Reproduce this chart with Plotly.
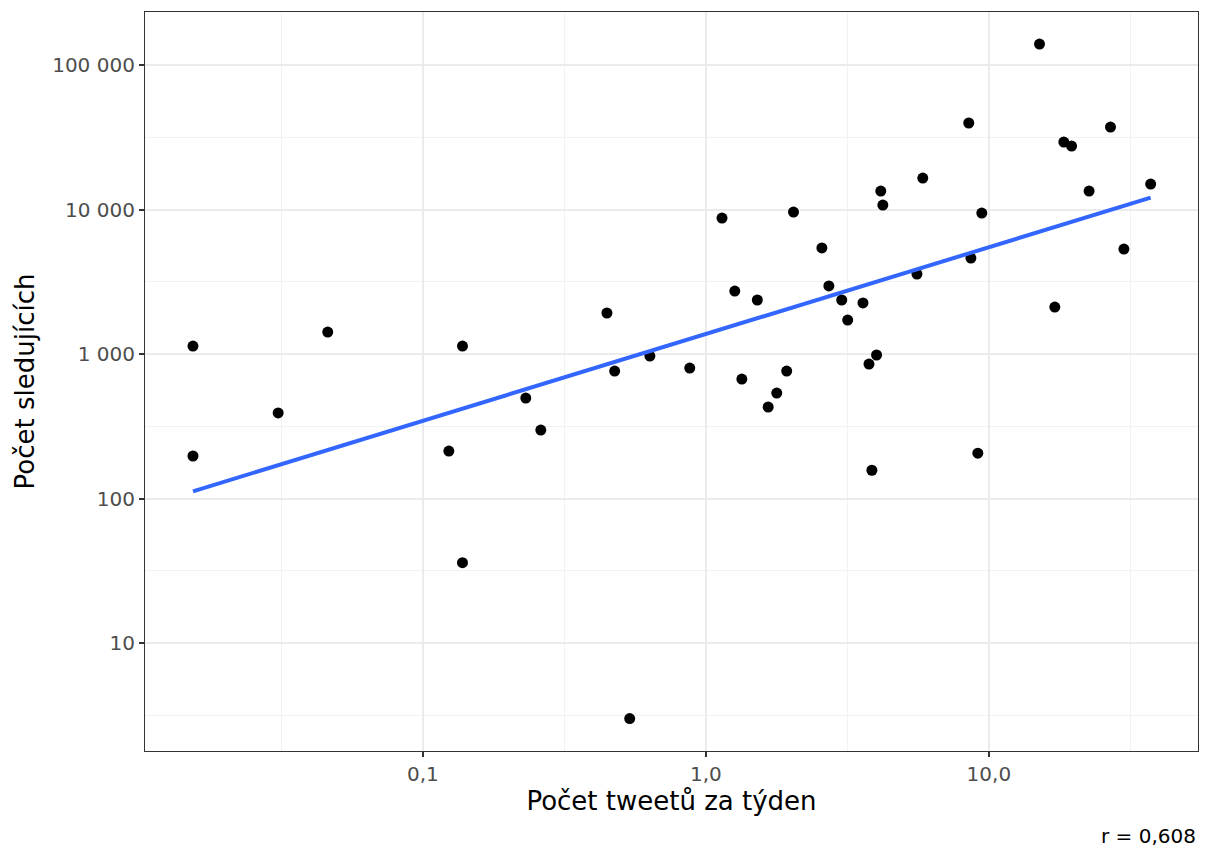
import numpy as np
import plotly.graph_objects as go

tweets_per_week = [0.0154, 0.0154, 0.0308, 0.0461, 0.1235, 0.138, 0.138, 0.231, 0.261, 0.447,
                   0.476, 0.538, 0.634, 0.877, 1.14, 1.265, 1.34, 1.52, 1.66, 1.78,
                   1.93, 2.04, 2.57, 2.72, 3.02, 3.17, 3.59, 3.77, 3.86, 4.01,
                   4.15, 4.22, 5.57, 5.84, 8.49, 8.64, 9.14, 9.44, 15.1, 17.1,
                   18.4, 19.6, 22.6, 26.9, 30.0, 37.3]
followers = [1135, 197, 391, 1420, 213, 1136, 36, 496, 298, 1923,
             763, 3, 969, 800, 8730, 2730, 671, 2366, 430, 537,
             763, 9610, 5420, 2958, 2366, 1718, 2256, 853, 157, 985,
             13430, 10740, 3580, 16520, 39700, 4615, 206, 9460, 139700, 2114,
             29300, 27500, 13430, 37200, 5330, 15000]

x_tick_vals = [0.1, 1.0, 10.0]
x_tick_text = ["0,1", "1,0", "10,0"]
y_tick_vals = [10, 100, 1000, 10000, 100000]
y_tick_text = ["10", "100", "1 000", "10 000", "100 000"]
x_minor = [10 ** -1.5, 10 ** -0.5, 10 ** 0.5, 10 ** 1.5]
y_minor = [10 ** 0.5, 10 ** 1.5, 10 ** 2.5, 10 ** 3.5, 10 ** 4.5]

lx = np.log10(tweets_per_week)
ly = np.log10(followers)
slope, intercept = np.polyfit(lx, ly, 1)
fx = np.linspace(lx.min(), lx.max(), 50)
fy = slope * fx + intercept

fig = go.Figure()
fig.add_trace(go.Scatter(x=tweets_per_week, y=followers, mode="markers",
                         marker=dict(color="black", size=11, line=dict(width=0)),
                         showlegend=False, hoverinfo="skip"))
fig.add_trace(go.Scatter(x=10 ** fx, y=10 ** fy, mode="lines",
                         line=dict(color="#3366FF", width=4),
                         showlegend=False, hoverinfo="skip"))

FONT = "DejaVu Sans"
fig.update_layout(
    width=1206, height=849,
    margin=dict(l=145, r=8, t=12, b=98),
    plot_bgcolor="white", paper_bgcolor="white",
    font=dict(family=FONT, color="black"),
    xaxis=dict(type="log", range=[-1.982, 1.739],
               tickvals=x_tick_vals, ticktext=x_tick_text,
               tickfont=dict(size=20, color="#4D4D4D", family=FONT),
               ticks="outside", ticklen=5, tickwidth=2, tickcolor="#333333",
               showgrid=True, gridcolor="#EBEBEB", gridwidth=2,
               minor=dict(tickvals=x_minor, showgrid=True, gridcolor="#F2F2F2", gridwidth=1, ticks=""),
               showline=True, linecolor="#333333", linewidth=1.2, mirror=True,
               zeroline=False,
               title=dict(text="Počet tweetů za týden", font=dict(size=26, family=FONT, color="black"), standoff=5)),
    yaxis=dict(type="log", range=[0.253, 5.367],
               tickvals=y_tick_vals, ticktext=y_tick_text,
               tickfont=dict(size=20, color="#4D4D4D", family=FONT),
               ticks="outside", ticklen=5, tickwidth=2, tickcolor="#333333",
               showgrid=True, gridcolor="#EBEBEB", gridwidth=2,
               minor=dict(tickvals=y_minor, showgrid=True, gridcolor="#F2F2F2", gridwidth=1, ticks=""),
               showline=True, linecolor="#333333", linewidth=1.2, mirror=True,
               zeroline=False,
               title=dict(text="Počet sledujících", font=dict(size=26, family=FONT, color="black"), standoff=10)),
    annotations=[dict(text="r = 0,608", xref="paper", yref="paper", x=1.0, y=-0.115,
                      xanchor="right", yanchor="middle", showarrow=False,
                      font=dict(size=20, family=FONT, color="black"))],
)
fig.write_html("out.html", config={"displayModeBar": False},
               post_script="document.body.style.margin='0';document.body.style.overflow='hidden';")
